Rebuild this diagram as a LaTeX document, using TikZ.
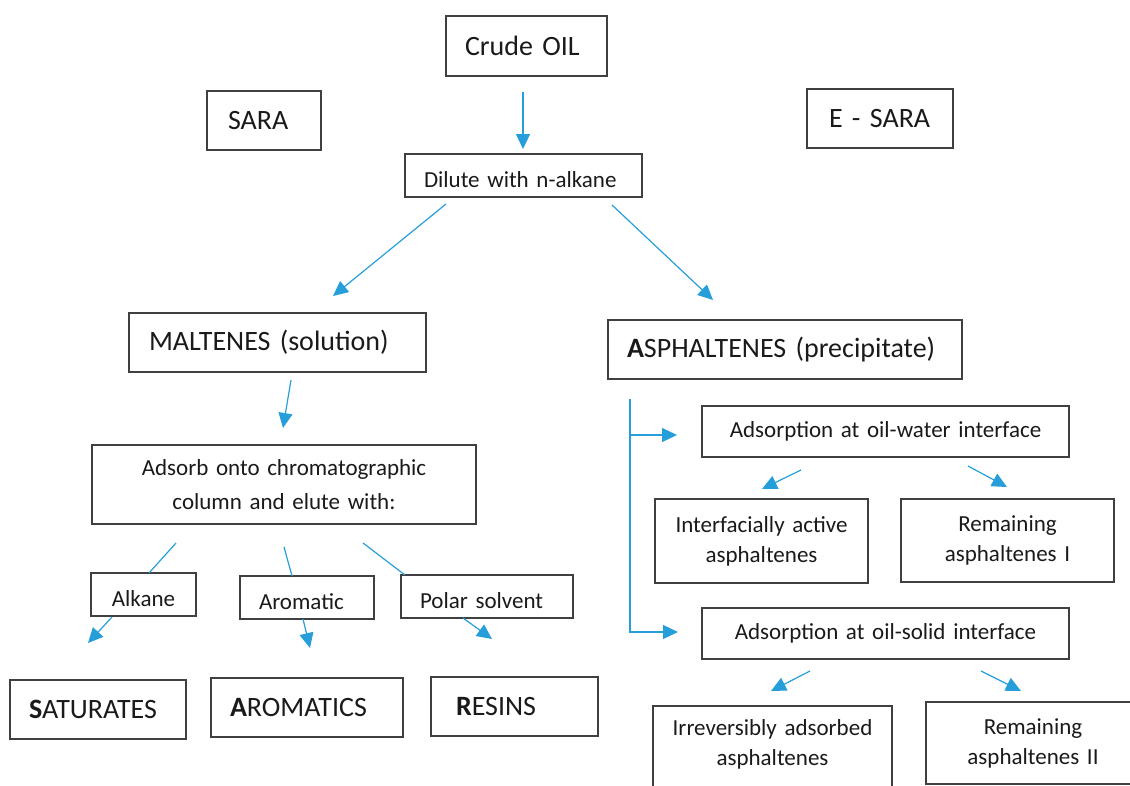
\documentclass[tikz,border=0pt]{standalone}
\usepackage{fontspec}
\setmainfont{Carlito}
\usetikzlibrary{arrows.meta}
\definecolor{arrc}{RGB}{38,158,218}
\definecolor{boxc}{RGB}{64,64,64}
\definecolor{txt}{RGB}{26,26,26}
\newcommand{\dnstrut}{\rule{0pt}{25pt}}
\tikzset{
  box/.style={draw=boxc, line width=1.3pt, inner ysep=0pt, outer sep=0pt, anchor=north west, text=txt},
  big/.style={font=\fontsize{28}{34}\selectfont},
  small/.style={font=\fontsize{23}{30}\selectfont},
  arr/.style={draw=arrc, line width=1.2pt, -{Triangle[length=15pt,width=14pt]}},
  ln/.style={draw=arrc, line width=1.2pt},
}
\begin{document}
\begin{tikzpicture}[x=1pt,y=-1pt]
\useasboundingbox (0,0) rectangle (1130,785);
% top boxes
\node[box,big,minimum height=60pt,inner xsep=19pt,text width=123pt,align=left] (crude) at (446,16) {\mbox{Crude OIL}};
\node[box,big,minimum height=59pt,inner xsep=21pt,text width=72pt,align=left] (sara) at (207,91) {\mbox{SARA}};
\node[box,big,minimum height=59pt,inner xsep=22pt,text width=102pt,align=left] (esara) at (807,89) {\mbox{E - SARA}};
\node[box,small,minimum height=43pt,inner xsep=19pt,text width=199pt,align=left] (dilute) at (405,154) {\mbox{\dnstrut Dilute with n-alkane}};
\node[box,big,minimum height=59pt,inner xsep=20pt,text width=257pt,align=left] (malt) at (129,313) {\mbox{MALTENES (solution)}};
\node[box,big,minimum height=59pt,inner xsep=19pt,text width=316pt,align=left] (asph) at (608,320) {\mbox{\textbf{A}SPHALTENES (precipitate)}};
% maltenes branch
\node[box,font=\fontsize{23}{34}\selectfont,minimum height=79pt,inner xsep=10pt,text width=364pt,align=center] (adsorb) at (92,445) {Adsorb onto chromatographic\\column and elute with:};
\node[box,small,minimum height=43pt,inner xsep=10pt,text width=85pt,align=center] (alkane) at (91,573) {\dnstrut Alkane};
\node[box,small,minimum height=43pt,inner xsep=19pt,text width=96pt,align=left] (aromatic) at (240,576) {\mbox{\dnstrut Aromatic}};
\node[box,small,minimum height=43pt,inner xsep=19pt,text width=134pt,align=left] (polar) at (401,575) {\mbox{\dnstrut Polar solvent}};
\node[box,big,minimum height=59pt,inner xsep=19pt,text width=138pt,align=left] (sat) at (10,680) {\mbox{\textbf{S}ATURATES}};
\node[box,big,minimum height=59pt,inner xsep=19pt,text width=154pt,align=left] (arom) at (211,678) {\mbox{\textbf{A}ROMATICS}};
\node[box,big,minimum height=59pt,inner xsep=25pt,text width=117pt,align=left] (resins) at (431,677) {\mbox{\textbf{R}ESINS}};
% asphaltenes branch
\node[box,small,minimum height=51pt,inner xsep=10pt,text width=347pt,align=center] (ow) at (702,406) {Adsorption at oil-water interface};
\node[box,small,minimum height=84pt,inner xsep=10pt,text width=193pt,align=center] (iaa) at (655,499) {Interfacially active\\asphaltenes};
\node[box,small,minimum height=83pt,inner xsep=10pt,text width=193pt,align=center] (rem1) at (901,499) {Remaining\\asphaltenes I};
\node[box,small,minimum height=51pt,inner xsep=10pt,text width=347pt,align=center] (os) at (702,608) {Adsorption at oil-solid interface};
\node[box,small,minimum height=84pt,inner xsep=10pt,text width=219pt,align=center] (irr) at (653,706) {Irreversibly adsorbed\\asphaltenes\rule[-10pt]{0pt}{0pt}};
\node[box,small,minimum height=82pt,inner xsep=10pt,text width=194pt,align=center] (rem2) at (926,702) {Remaining\\asphaltenes II};
% connector end points
\coordinate (a1s) at (523,92);  \coordinate (a1t) at (523,149);
\coordinate (a2s) at (446,204); \coordinate (a2t) at (333,296);
\coordinate (a3s) at (612,205); \coordinate (a3t) at (713,300);
\coordinate (a4s) at (291,380); \coordinate (a4t) at (283,428);
\coordinate (l1s) at (176,543); \coordinate (l1t) at (149,573);
\coordinate (l2s) at (284,547); \coordinate (l2t) at (292,576);
\coordinate (l3s) at (363,543); \coordinate (l3t) at (405,575);
\coordinate (b1s) at (112,617); \coordinate (b1t) at (88,643);
\coordinate (b2s) at (303,619); \coordinate (b2t) at (310,648);
\coordinate (b3s) at (463,618); \coordinate (b3t) at (492,639);
\coordinate (vtop) at (630,399); \coordinate (vb1) at (630,435);
\coordinate (owt) at (677,435);  \coordinate (ost) at (678,632);
\coordinate (c1s) at (801,470); \coordinate (c1t) at (762,489);
\coordinate (c2s) at (968,466); \coordinate (c2t) at (1007,487);
\coordinate (d1s) at (810,671); \coordinate (d1t) at (771,691);
\coordinate (d2s) at (981,671); \coordinate (d2t) at (1021,691);
% connectors
\draw[arr] (a1s) -- (a1t);
\draw[arr] (a2s) -- (a2t);
\draw[arr] (a3s) -- (a3t);
\draw[arr] (a4s) -- (a4t);
\draw[ln] (l1s) -- (l1t);
\draw[ln] (l2s) -- (l2t);
\draw[ln] (l3s) -- (l3t);
\draw[arr] (b1s) -- (b1t);
\draw[arr] (b2s) -- (b2t);
\draw[arr] (b3s) -- (b3t);
\draw[arr] (vtop) |- (ost);
\draw[arr] (vb1) -- (owt);
\draw[arr] (c1s) -- (c1t);
\draw[arr] (c2s) -- (c2t);
\draw[arr] (d1s) -- (d1t);
\draw[arr] (d2s) -- (d2t);
\end{tikzpicture}
\end{document}
